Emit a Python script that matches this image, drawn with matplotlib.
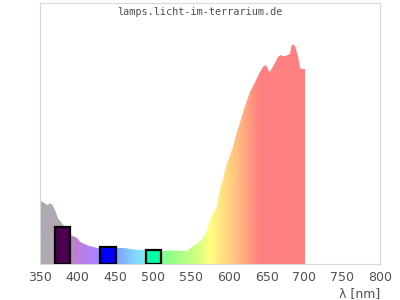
import matplotlib
matplotlib.use("Agg")
import matplotlib.pyplot as plt
import numpy as np
from matplotlib.colors import LinearSegmentedColormap
from matplotlib.patches import Polygon

# spectrum (relative intensity)
wl = [350, 353, 356, 360, 363, 366, 370, 374, 378, 382, 386, 390, 395, 399, 403,
      408, 414, 420, 425, 429, 435, 440, 452, 462, 473, 480, 486, 495, 509, 515,
      522, 530, 538, 545, 548, 553, 558, 562, 566, 571, 575, 579, 584, 588, 592,
      596, 600, 605, 610, 617, 621, 628, 634, 641, 646, 649, 652, 654, 658, 662,
      665, 668, 672, 675, 678, 681, 683, 686, 688, 690, 692, 694, 697, 701]
inten = [0.235, 0.24, 0.232, 0.226, 0.232, 0.228, 0.205, 0.175, 0.16, 0.145, 0.125,
         0.112, 0.105, 0.100, 0.085, 0.078, 0.070, 0.066, 0.062, 0.058, 0.060, 0.062,
         0.062, 0.061, 0.056, 0.054, 0.054, 0.052, 0.050, 0.050, 0.052, 0.051, 0.050,
         0.050, 0.060, 0.068, 0.078, 0.088, 0.100, 0.128, 0.165, 0.195, 0.218, 0.284,
         0.322, 0.370, 0.405, 0.444, 0.500, 0.563, 0.602, 0.659, 0.693, 0.735, 0.758,
         0.762, 0.745, 0.735, 0.755, 0.775, 0.793, 0.800, 0.797, 0.797, 0.801, 0.805,
         0.839, 0.840, 0.832, 0.810, 0.790, 0.751, 0.747, 0.747]

# measured bands
bar_wl = [380, 440, 500]
bar_val = [0.142, 0.065, 0.054]
bar_colors = ['#4b0050', '#0000ff', '#00ffa0']

x_ticks = [350, 400, 450, 500, 550, 600, 650, 700, 750, 800]

grad = LinearSegmentedColormap.from_list('spec', [
    (0.0, '#b0a8b2'), (30 / 350, '#b0a8b2'), (45 / 350, '#c080d0'),
    (70 / 350, '#b080ff'), (100 / 350, '#80a0ff'), (130 / 350, '#80e0ff'),
    (160 / 350, '#80ff90'), (200 / 350, '#c0ff80'), (225 / 350, '#ffff80'),
    (260 / 350, '#ffc080'), (290 / 350, '#ff8080'), (1.0, '#ff8080')])

fig = plt.figure(figsize=(4, 3), dpi=100)
ax = fig.add_axes([0.1, 0.12, 0.85, 0.87])
ax.set_xlim(350, 800)
ax.set_ylim(0, 1.0)

img = ax.imshow(np.linspace(0, 1, 512).reshape(1, -1), cmap=grad, aspect='auto',
                extent=[350, 700, 0, 1], origin='lower', zorder=1)
verts = [(wl[0], 0)] + list(zip(wl, inten)) + [(wl[-1], 0)]
poly = Polygon(verts, closed=True, facecolor='none', edgecolor='none')
ax.add_patch(poly)
img.set_clip_path(poly)

ax.bar(bar_wl, bar_val, width=20, color=bar_colors, edgecolor='black',
       linewidth=1.6, zorder=3)

ax.set_xticks(x_ticks)
ax.set_yticks([])
ax.tick_params(axis='x', length=0, pad=5, labelsize=9, colors='#505050')
for s in ax.spines.values():
    s.set_color('#d8d8d8')
fig.text(0.5, 0.96, 'lamps.licht-im-terrarium.de', ha='center', va='center',
         family='DejaVu Sans Mono', fontsize=7.3, color='#505050')
fig.text(0.95, 0.0, 'λ [nm]', ha='right', va='bottom', fontsize=9, color='#505050')

fig.savefig('out.png', dpi=100)
